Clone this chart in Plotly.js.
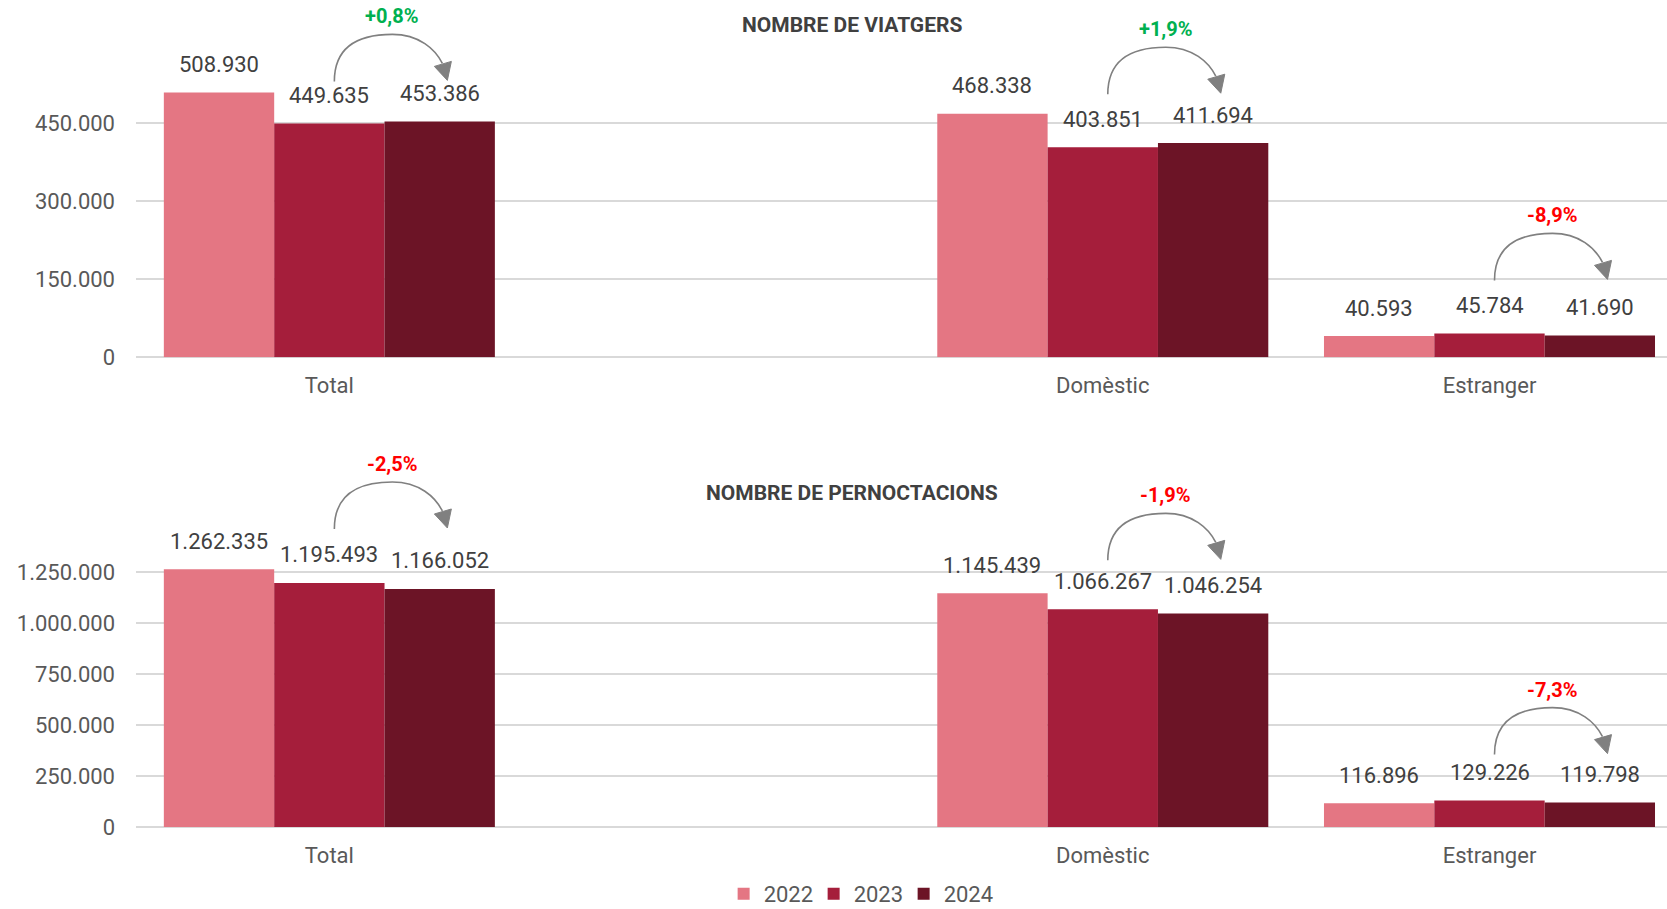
<!DOCTYPE html>
<html>
<head>
<meta charset="utf-8">
<script src="https://cdn.plot.ly/plotly-3.0.1.min.js"></script>
<style>
  body { margin: 0; background: #fff; }
  #chart { width: 1667px; height: 909px; }
</style>
</head>
<body>
<div id="chart"></div>
<script>
// data
var categories = ["Total", "Domèstic", "Estranger"];
var years = ["2022", "2023", "2024"];

var viatgers2022 = [508930, 468338, 40593];
var viatgers2023 = [449635, 403851, 45784];
var viatgers2024 = [453386, 411694, 41690];

var pernoc2022 = [1262335, 1145439, 116896];
var pernoc2023 = [1195493, 1066267, 129226];
var pernoc2024 = [1166052, 1046254, 119798];

var viatgersTicks = [0, 150000, 300000, 450000];
var pernocTicks = [0, 250000, 500000, 750000, 1000000, 1250000];

// style
var colors = ["#E47683", "#A51E3B", "#6C1426"];
var slots = [0, 2, 3];           // slot 1 is left empty as a gap
var bargap = 0.144;
var barW = (1 - bargap) / 3;
var FONT = "Roboto, 'DejaVu Sans', sans-serif";
var txtColor = "#404040";
var axColor = "#595959";
var gridColor = "#D9D9D9";
// how high (px) each arrow starts above the 2023 bar
var liftTop = [42, 53, 53];
var liftBottom = [54, 49, 46];

function fmt(v) {
    return String(v).replace(/\B(?=(\d{3})+(?!\d))/g, ".");
}

function pct(a, b) {
    var p = (b - a) / a * 100;
    return (p >= 0 ? "+" : "") + p.toFixed(1).replace(".", ",") + "%";
}

function arcPath(L) {
    return "M 5," + L + " C 5," + (L + 35) + " 30," + (L + 47) + " 63," + (L + 47) +
        " C 90," + (L + 47) + " 106," + (L + 32) + " 113," + (L + 18);
}

function headPath(L) {
    return "M 105," + (L + 15) + " L 122," + (L + 20) + " L 118," + (L + 1) + " Z";
}

var data = [];
var annotations = [];
var shapes = [];

function addPanel(series, xa, ya, showLegend, lift) {
    var xref = xa.replace("axis", "");
    var yref = ya.replace("axis", "");
    for (var j = 0; j < series.length; j++) {
        data.push({
            type: "bar",
            name: years[j],
            x: slots,
            y: series[j],
            xaxis: xref,
            yaxis: yref,
            marker: { color: colors[j] },
            legendgroup: years[j],
            showlegend: showLegend,
            hoverinfo: "skip"
        });
        // value labels above each bar
        for (var i = 0; i < categories.length; i++) {
            annotations.push({
                xref: xref, yref: yref,
                x: slots[i] + (j - 1) * barW,
                y: series[j][i],
                yshift: 28,
                yanchor: "middle",
                text: fmt(series[j][i]),
                showarrow: false,
                font: { family: FONT, size: 22, color: txtColor }
            });
        }
    }
    // curved arrow 2023 -> 2024 with % change
    for (var i = 0; i < categories.length; i++) {
        var a = series[1][i], b = series[2][i];
        shapes.push({
            type: "path", xref: xref, yref: yref,
            xsizemode: "pixel", ysizemode: "pixel",
            xanchor: slots[i], yanchor: a,
            path: arcPath(lift[i]),
            line: { color: "#808080", width: 1.6 }
        });
        shapes.push({
            type: "path", xref: xref, yref: yref,
            xsizemode: "pixel", ysizemode: "pixel",
            xanchor: slots[i], yanchor: a,
            path: headPath(lift[i]),
            fillcolor: "#808080",
            line: { color: "#808080", width: 1 }
        });
        annotations.push({
            xref: xref, yref: yref,
            x: slots[i], y: a,
            xshift: 63, yshift: lift[i] + 65,
            yanchor: "middle",
            text: "<b>" + pct(a, b) + "</b>",
            showarrow: false,
            font: { family: FONT, size: 20, color: b >= a ? "#00B050" : "#FF0000" }
        });
    }
}

addPanel([viatgers2022, viatgers2023, viatgers2024], "xaxis", "yaxis", true, liftTop);
addPanel([pernoc2022, pernoc2023, pernoc2024], "xaxis2", "yaxis2", false, liftBottom);

annotations.push({
    xref: "paper", yref: "paper", x: 0.4677, y: 0.973,
    xanchor: "center", yanchor: "middle",
    text: "<b>NOMBRE DE VIATGERS</b>", showarrow: false,
    font: { family: FONT, size: 21, color: "#404040" }
});
annotations.push({
    xref: "paper", yref: "paper", x: 0.4677, y: 1 - 493 / 909,
    xanchor: "center", yanchor: "middle",
    text: "<b>NOMBRE DE PERNOCTACIONS</b>", showarrow: false,
    font: { family: FONT, size: 21, color: "#404040" }
});

function xAxis(anchor) {
    return {
        anchor: anchor,
        domain: [0, 1],
        range: [-0.5, 3.459],
        tickmode: "array",
        tickvals: slots,
        ticktext: categories,
        ticks: "",
        ticklabelstandoff: 13,
        showgrid: false,
        zeroline: false,
        showline: false,
        tickfont: { family: FONT, size: 22, color: axColor },
        fixedrange: true
    };
}

function yAxis(anchor, domain, top, ticks) {
    return {
        anchor: anchor,
        domain: domain,
        range: [0, top],
        tickmode: "array",
        tickvals: ticks,
        tickformat: ",",
        ticks: "",
        ticklabelstandoff: 20,
        showgrid: true,
        gridcolor: gridColor,
        gridwidth: 1.5,
        zeroline: true,
        zerolinecolor: gridColor,
        zerolinewidth: 1.5,
        showline: false,
        tickfont: { family: FONT, size: 22, color: axColor },
        fixedrange: true
    };
}

var layout = {
    width: 1667,
    height: 909,
    margin: { l: 136, r: 0, t: 0, b: 0, autoexpand: false },
    paper_bgcolor: "#ffffff",
    plot_bgcolor: "#ffffff",
    separators: ",.",
    barmode: "group",
    bargap: bargap,
    bargroupgap: 0,
    font: { family: FONT, color: axColor },
    xaxis: xAxis("y"),
    yaxis: yAxis("x", [1 - 357.2 / 909, 1 - 10 / 909], 667700, viatgersTicks),
    xaxis2: xAxis("y2"),
    yaxis2: yAxis("x2", [1 - 827 / 909, 1 - 440 / 909], 1896000, pernocTicks),
    showlegend: true,
    legend: {
        orientation: "h",
        x: 0.472, xanchor: "center",
        y: 0.0165, yanchor: "middle",
        font: { family: FONT, size: 22, color: axColor },
        itemwidth: 30,
        entrywidth: 45,
        traceorder: "normal"
    },
    annotations: annotations,
    shapes: shapes
};

Plotly.newPlot("chart", data, layout, { displayModeBar: false, staticPlot: true });
</script>
</body>
</html>
